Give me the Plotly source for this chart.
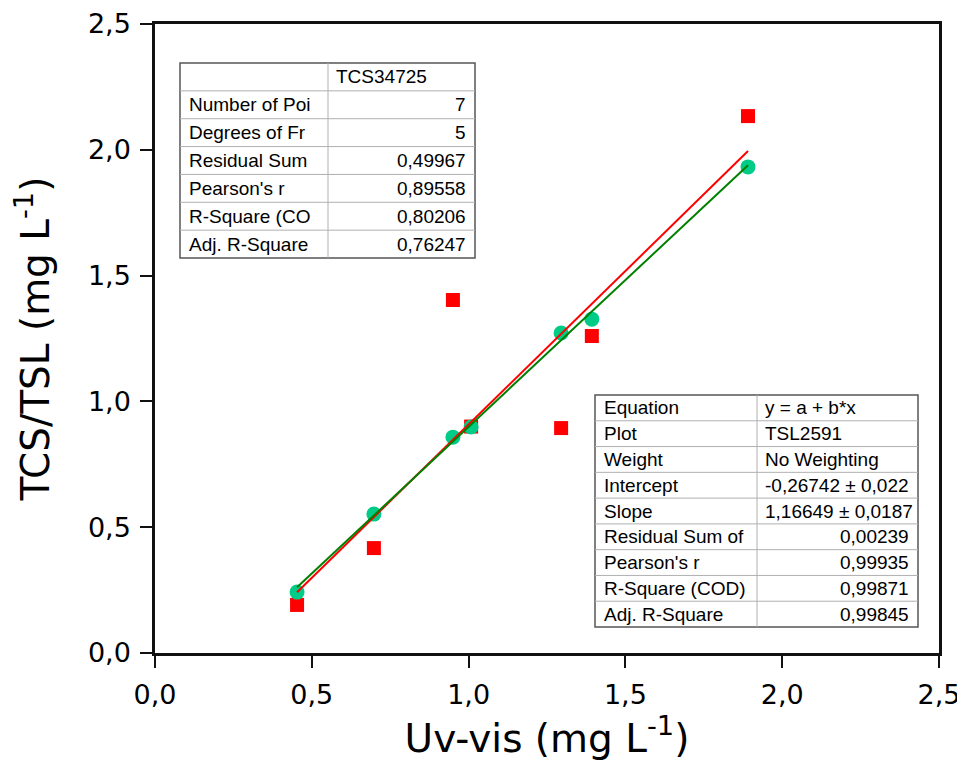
import numpy as np
import plotly.graph_objects as go

# ---- data ----
x_uv = [0.453, 0.698, 0.950, 1.008, 1.295, 1.393, 1.891]
y_tsl = [0.242, 0.552, 0.858, 0.898, 1.272, 1.327, 1.932]   # TSL2591 (green circles)
y_tcs = [0.191, 0.417, 1.403, 0.900, 0.894, 1.260, 2.134]   # TCS34725 (red squares)

tsl_intercept = -0.26742
tsl_slope = 1.16649

tcs_header = "TCS34725"
tcs_labels = ["Number of Poi", "Degrees of Fr", "Residual Sum", "Pearson's r",
              "R-Square (CO", "Adj. R-Square"]
tcs_values = ["7", "5", "0,49967", "0,89558", "0,80206", "0,76247"]

tsl_labels = ["Equation", "Plot", "Weight", "Intercept", "Slope", "Residual Sum of",
              "Pearson's r", "R-Square (COD)", "Adj. R-Square"]
tsl_values = ["y = a + b*x", "TSL2591", "No Weighting", "-0,26742 \u00b1 0,022",
              "1,16649 \u00b1 0,0187", "0,00239", "0,99935", "0,99871", "0,99845"]
tsl_align = ["left", "left", "left", "left", "left", "right", "right", "right", "right"]

x_ticks = [0.0, 0.5, 1.0, 1.5, 2.0, 2.5]
y_ticks = [0.0, 0.5, 1.0, 1.5, 2.0, 2.5]

# ---- fits ----
xa = np.array(x_uv)
xfit = np.array([xa.min(), xa.max()])
tcs_b, tcs_a = np.polyfit(xa, np.array(y_tcs), 1)
yfit_tcs = tcs_a + tcs_b * xfit
yfit_tsl = tsl_intercept + tsl_slope * xfit

W, H = 965, 762
OFF = 8  # page body margin
# desired plot area in screen pixels
SX0, SX1, SY0, SY1 = 155, 939, 24, 653
L = SX0 - OFF
R = W + OFF - SX1
T = SY0 - OFF
B = H + OFF - SY1


def fx(p):
    return (p - SX0) / (SX1 - SX0)


def fy(p):
    return (SY1 - p) / (SY1 - SY0)


fig = go.Figure()
fig.add_trace(go.Scatter(x=x_uv, y=y_tcs, mode="markers",
                         marker=dict(symbol="square", size=14, color="#ff0000"),
                         name="TCS34725"))
fig.add_trace(go.Scatter(x=x_uv, y=y_tsl, mode="markers",
                         marker=dict(symbol="circle", size=15, color="#00cc88"),
                         name="TSL2591"))
fig.add_trace(go.Scatter(x=xfit, y=yfit_tcs, mode="lines",
                         line=dict(color="#ff0000", width=2), name="fit TCS"))
fig.add_trace(go.Scatter(x=xfit, y=yfit_tsl, mode="lines",
                         line=dict(color="#008000", width=2), name="fit TSL"))

shapes = []
annotations = []
TFONT = dict(family="Liberation Sans, Arial, sans-serif", size=19, color="black")
GRID = "#b0b0b0"


def add_table(left, right, split, top, bottom, rows):
    n = len(rows)
    rh = (bottom - top) / n
    shapes.append(dict(type="rect", xref="paper", yref="paper",
                       x0=fx(left), x1=fx(right), y0=fy(bottom), y1=fy(top),
                       fillcolor="white", line=dict(color="#555555", width=1.5), layer="above"))
    for i in range(1, n):
        yy = fy(top + i * rh)
        shapes.append(dict(type="line", xref="paper", yref="paper",
                           x0=fx(left), x1=fx(right), y0=yy, y1=yy,
                           line=dict(color=GRID, width=1), layer="above"))
    shapes.append(dict(type="line", xref="paper", yref="paper",
                       x0=fx(split), x1=fx(split), y0=fy(bottom), y1=fy(top),
                       line=dict(color=GRID, width=1), layer="above"))
    for i, (lab, val, al) in enumerate(rows):
        yc = fy(top + (i + 0.5) * rh)
        if lab:
            annotations.append(dict(xref="paper", yref="paper", x=fx(left + 7), y=yc,
                                    text=lab, showarrow=False, xanchor="left",
                                    yanchor="middle", font=TFONT))
        if al == "left":
            annotations.append(dict(xref="paper", yref="paper", x=fx(split + 6), y=yc,
                                    text=val, showarrow=False, xanchor="left",
                                    yanchor="middle", font=TFONT))
        else:
            annotations.append(dict(xref="paper", yref="paper", x=fx(right - 7), y=yc,
                                    text=val, showarrow=False, xanchor="right",
                                    yanchor="middle", font=TFONT))


tcs_rows = [("", tcs_header, "left")] + [(l, v, "right") for l, v in zip(tcs_labels, tcs_values)]
add_table(180, 475, 328, 63, 258, tcs_rows)
tsl_rows = list(zip(tsl_labels, tsl_values, tsl_align))
add_table(595, 918, 757, 395, 627, tsl_rows)

axis_common = dict(
    showline=True, linecolor="#111111", linewidth=2.5, mirror=True,
    ticks="outside", ticklen=12, tickwidth=2, tickcolor="#111111",
    showgrid=False, zeroline=False, tickformat=".1f", automargin=False,
    ticklabelstandoff=4,
    tickfont=dict(family="DejaVu Sans, Verdana, sans-serif", size=27, color="black"),
)

fig.update_layout(
    width=W, height=H,
    margin=dict(l=L, r=R, t=T, b=B),
    paper_bgcolor="white", plot_bgcolor="white",
    showlegend=False,
    separators=",.",
    xaxis=dict(range=[0, 2.5], tickvals=x_ticks,
               title=dict(text="Uv-vis (mg L<sup>-1</sup>)", standoff=14,
                          font=dict(family="DejaVu Sans, Verdana, sans-serif", size=39, color="black")),
               **axis_common),
    yaxis=dict(range=[0, 2.5], tickvals=y_ticks,
               title=dict(text="TCS/TSL (mg L<sup>-1</sup>)", standoff=40,
                          font=dict(family="DejaVu Sans, Verdana, sans-serif", size=39, color="black")),
               **axis_common),
    shapes=shapes,
    annotations=annotations,
)

fig.write_html("out.html")
